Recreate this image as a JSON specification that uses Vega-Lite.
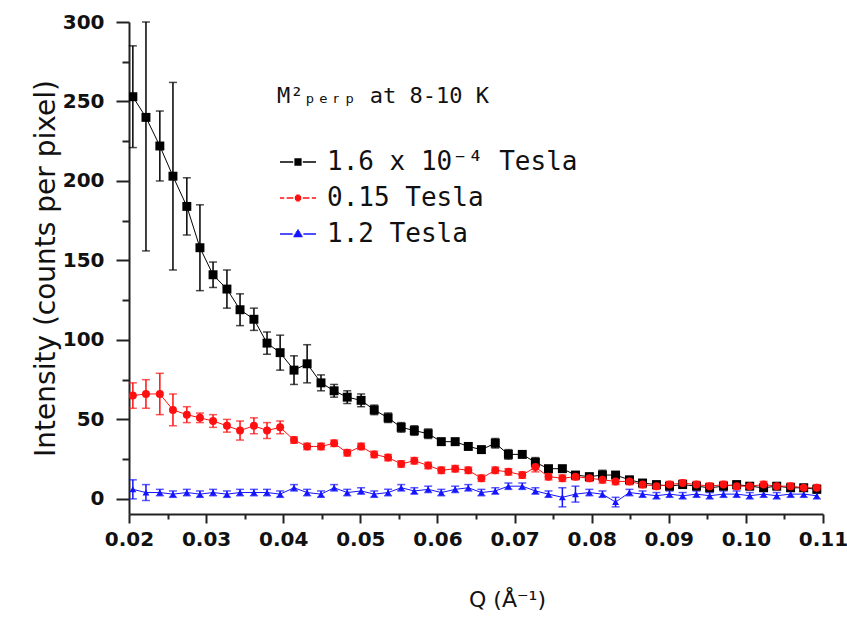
{
  "$schema": "https://vega.github.io/schema/vega-lite/v6.json",
  "width": 694,
  "height": 492,
  "autosize": {"type": "none"},
  "padding": {"left": 129, "top": 22, "right": 24, "bottom": 104},
  "background": "white",
  "config": {
    "view": {"stroke": null},
    "font": "DejaVu Sans",
    "axis": {"grid": false, "domainColor": "#222222", "tickColor": "#222222", "domainWidth": 2, "tickWidth": 2, "labelColor": "#111111", "titleColor": "#111111", "labelFlush": false, "labelOverlap": false},
    "legend": {
      "orient": "none", "legendX": 148, "legendY": 64,
      "titleFont": "DejaVu Sans Mono", "titleFontSize": 22, "titleFontWeight": "normal", "titleColor": "#111111", "titlePadding": 41, "titleLimit": 500,
      "labelFont": "DejaVu Sans Mono", "labelFontSize": 26, "labelColor": "#111111", "labelLimit": 500, "labelOffset": 16, "symbolOffset": 8,
      "symbolSize": 36, "symbolStrokeWidth": 1.6, "rowPadding": 10, "symbolOpacity": 1
    }
  },
  "data": {"values": [
    {"s": "1.6 x 10⁻⁴ Tesla", "q": 0.0205, "i": 253, "e": 32},
    {"s": "1.6 x 10⁻⁴ Tesla", "q": 0.0222, "i": 240, "e": 84},
    {"s": "1.6 x 10⁻⁴ Tesla", "q": 0.0240, "i": 222, "e": 22},
    {"s": "1.6 x 10⁻⁴ Tesla", "q": 0.0257, "i": 203, "e": 59},
    {"s": "1.6 x 10⁻⁴ Tesla", "q": 0.0275, "i": 184, "e": 18},
    {"s": "1.6 x 10⁻⁴ Tesla", "q": 0.0292, "i": 158, "e": 27},
    {"s": "1.6 x 10⁻⁴ Tesla", "q": 0.0309, "i": 141, "e": 8},
    {"s": "1.6 x 10⁻⁴ Tesla", "q": 0.0327, "i": 132, "e": 12},
    {"s": "1.6 x 10⁻⁴ Tesla", "q": 0.0344, "i": 119, "e": 10},
    {"s": "1.6 x 10⁻⁴ Tesla", "q": 0.0362, "i": 113, "e": 7},
    {"s": "1.6 x 10⁻⁴ Tesla", "q": 0.0379, "i": 98, "e": 7},
    {"s": "1.6 x 10⁻⁴ Tesla", "q": 0.0396, "i": 92, "e": 11},
    {"s": "1.6 x 10⁻⁴ Tesla", "q": 0.0414, "i": 81, "e": 9},
    {"s": "1.6 x 10⁻⁴ Tesla", "q": 0.0431, "i": 85, "e": 12},
    {"s": "1.6 x 10⁻⁴ Tesla", "q": 0.0449, "i": 73, "e": 5},
    {"s": "1.6 x 10⁻⁴ Tesla", "q": 0.0466, "i": 68, "e": 4},
    {"s": "1.6 x 10⁻⁴ Tesla", "q": 0.0483, "i": 64, "e": 4},
    {"s": "1.6 x 10⁻⁴ Tesla", "q": 0.0501, "i": 62, "e": 4},
    {"s": "1.6 x 10⁻⁴ Tesla", "q": 0.0518, "i": 56, "e": 3},
    {"s": "1.6 x 10⁻⁴ Tesla", "q": 0.0536, "i": 51, "e": 3},
    {"s": "1.6 x 10⁻⁴ Tesla", "q": 0.0553, "i": 45, "e": 3},
    {"s": "1.6 x 10⁻⁴ Tesla", "q": 0.0570, "i": 43, "e": 3},
    {"s": "1.6 x 10⁻⁴ Tesla", "q": 0.0588, "i": 41, "e": 3},
    {"s": "1.6 x 10⁻⁴ Tesla", "q": 0.0605, "i": 36, "e": 2},
    {"s": "1.6 x 10⁻⁴ Tesla", "q": 0.0623, "i": 36, "e": 2},
    {"s": "1.6 x 10⁻⁴ Tesla", "q": 0.0640, "i": 33, "e": 2},
    {"s": "1.6 x 10⁻⁴ Tesla", "q": 0.0657, "i": 31, "e": 2},
    {"s": "1.6 x 10⁻⁴ Tesla", "q": 0.0675, "i": 35, "e": 3},
    {"s": "1.6 x 10⁻⁴ Tesla", "q": 0.0692, "i": 28, "e": 3},
    {"s": "1.6 x 10⁻⁴ Tesla", "q": 0.0710, "i": 28, "e": 2},
    {"s": "1.6 x 10⁻⁴ Tesla", "q": 0.0727, "i": 23, "e": 3},
    {"s": "1.6 x 10⁻⁴ Tesla", "q": 0.0744, "i": 19, "e": 2},
    {"s": "1.6 x 10⁻⁴ Tesla", "q": 0.0762, "i": 19, "e": 2},
    {"s": "1.6 x 10⁻⁴ Tesla", "q": 0.0779, "i": 15, "e": 2},
    {"s": "1.6 x 10⁻⁴ Tesla", "q": 0.0797, "i": 14, "e": 2},
    {"s": "1.6 x 10⁻⁴ Tesla", "q": 0.0814, "i": 15, "e": 3},
    {"s": "1.6 x 10⁻⁴ Tesla", "q": 0.0831, "i": 15, "e": 2},
    {"s": "1.6 x 10⁻⁴ Tesla", "q": 0.0849, "i": 12, "e": 2},
    {"s": "1.6 x 10⁻⁴ Tesla", "q": 0.0866, "i": 10, "e": 2},
    {"s": "1.6 x 10⁻⁴ Tesla", "q": 0.0884, "i": 9, "e": 2},
    {"s": "1.6 x 10⁻⁴ Tesla", "q": 0.0901, "i": 8, "e": 2},
    {"s": "1.6 x 10⁻⁴ Tesla", "q": 0.0918, "i": 9, "e": 2},
    {"s": "1.6 x 10⁻⁴ Tesla", "q": 0.0936, "i": 8, "e": 2},
    {"s": "1.6 x 10⁻⁴ Tesla", "q": 0.0953, "i": 7, "e": 2},
    {"s": "1.6 x 10⁻⁴ Tesla", "q": 0.0971, "i": 8, "e": 2},
    {"s": "1.6 x 10⁻⁴ Tesla", "q": 0.0988, "i": 9, "e": 2},
    {"s": "1.6 x 10⁻⁴ Tesla", "q": 0.1005, "i": 8, "e": 2},
    {"s": "1.6 x 10⁻⁴ Tesla", "q": 0.1023, "i": 7, "e": 2},
    {"s": "1.6 x 10⁻⁴ Tesla", "q": 0.1040, "i": 8, "e": 2},
    {"s": "1.6 x 10⁻⁴ Tesla", "q": 0.1058, "i": 7, "e": 2},
    {"s": "1.6 x 10⁻⁴ Tesla", "q": 0.1075, "i": 7, "e": 2},
    {"s": "1.6 x 10⁻⁴ Tesla", "q": 0.1092, "i": 6, "e": 2},
    {"s": "0.15 Tesla", "q": 0.0205, "i": 65, "e": 8},
    {"s": "0.15 Tesla", "q": 0.0222, "i": 66, "e": 9},
    {"s": "0.15 Tesla", "q": 0.0240, "i": 66, "e": 13},
    {"s": "0.15 Tesla", "q": 0.0257, "i": 56, "e": 10},
    {"s": "0.15 Tesla", "q": 0.0275, "i": 53, "e": 5},
    {"s": "0.15 Tesla", "q": 0.0292, "i": 51, "e": 3},
    {"s": "0.15 Tesla", "q": 0.0309, "i": 49, "e": 4},
    {"s": "0.15 Tesla", "q": 0.0327, "i": 46, "e": 4},
    {"s": "0.15 Tesla", "q": 0.0344, "i": 43, "e": 6},
    {"s": "0.15 Tesla", "q": 0.0362, "i": 46, "e": 5},
    {"s": "0.15 Tesla", "q": 0.0379, "i": 43, "e": 5},
    {"s": "0.15 Tesla", "q": 0.0396, "i": 45, "e": 4},
    {"s": "0.15 Tesla", "q": 0.0414, "i": 37, "e": 2},
    {"s": "0.15 Tesla", "q": 0.0431, "i": 33, "e": 2},
    {"s": "0.15 Tesla", "q": 0.0449, "i": 33, "e": 2},
    {"s": "0.15 Tesla", "q": 0.0466, "i": 35, "e": 2},
    {"s": "0.15 Tesla", "q": 0.0483, "i": 29, "e": 2},
    {"s": "0.15 Tesla", "q": 0.0501, "i": 33, "e": 2},
    {"s": "0.15 Tesla", "q": 0.0518, "i": 28, "e": 2},
    {"s": "0.15 Tesla", "q": 0.0536, "i": 26, "e": 2},
    {"s": "0.15 Tesla", "q": 0.0553, "i": 22, "e": 2},
    {"s": "0.15 Tesla", "q": 0.0570, "i": 24, "e": 2},
    {"s": "0.15 Tesla", "q": 0.0588, "i": 21, "e": 2},
    {"s": "0.15 Tesla", "q": 0.0605, "i": 18, "e": 2},
    {"s": "0.15 Tesla", "q": 0.0623, "i": 19, "e": 2},
    {"s": "0.15 Tesla", "q": 0.0640, "i": 18, "e": 2},
    {"s": "0.15 Tesla", "q": 0.0657, "i": 13, "e": 2},
    {"s": "0.15 Tesla", "q": 0.0675, "i": 18, "e": 2},
    {"s": "0.15 Tesla", "q": 0.0692, "i": 17, "e": 2},
    {"s": "0.15 Tesla", "q": 0.0710, "i": 15, "e": 2},
    {"s": "0.15 Tesla", "q": 0.0727, "i": 20, "e": 3},
    {"s": "0.15 Tesla", "q": 0.0744, "i": 14, "e": 2},
    {"s": "0.15 Tesla", "q": 0.0762, "i": 13, "e": 2},
    {"s": "0.15 Tesla", "q": 0.0779, "i": 14, "e": 2},
    {"s": "0.15 Tesla", "q": 0.0797, "i": 13, "e": 2},
    {"s": "0.15 Tesla", "q": 0.0814, "i": 12, "e": 2},
    {"s": "0.15 Tesla", "q": 0.0831, "i": 11, "e": 2},
    {"s": "0.15 Tesla", "q": 0.0849, "i": 11, "e": 2},
    {"s": "0.15 Tesla", "q": 0.0866, "i": 9, "e": 2},
    {"s": "0.15 Tesla", "q": 0.0884, "i": 8, "e": 2},
    {"s": "0.15 Tesla", "q": 0.0901, "i": 9, "e": 2},
    {"s": "0.15 Tesla", "q": 0.0918, "i": 10, "e": 2},
    {"s": "0.15 Tesla", "q": 0.0936, "i": 9, "e": 2},
    {"s": "0.15 Tesla", "q": 0.0953, "i": 8, "e": 2},
    {"s": "0.15 Tesla", "q": 0.0971, "i": 9, "e": 2},
    {"s": "0.15 Tesla", "q": 0.0988, "i": 8, "e": 2},
    {"s": "0.15 Tesla", "q": 0.1005, "i": 8, "e": 2},
    {"s": "0.15 Tesla", "q": 0.1023, "i": 9, "e": 2},
    {"s": "0.15 Tesla", "q": 0.1040, "i": 8, "e": 2},
    {"s": "0.15 Tesla", "q": 0.1058, "i": 8, "e": 2},
    {"s": "0.15 Tesla", "q": 0.1075, "i": 7, "e": 2},
    {"s": "0.15 Tesla", "q": 0.1092, "i": 7, "e": 2},
    {"s": "1.2 Tesla", "q": 0.0205, "i": 6, "e": 6},
    {"s": "1.2 Tesla", "q": 0.0222, "i": 4, "e": 5},
    {"s": "1.2 Tesla", "q": 0.0240, "i": 4, "e": 2},
    {"s": "1.2 Tesla", "q": 0.0257, "i": 3, "e": 2},
    {"s": "1.2 Tesla", "q": 0.0275, "i": 4, "e": 2},
    {"s": "1.2 Tesla", "q": 0.0292, "i": 3, "e": 2},
    {"s": "1.2 Tesla", "q": 0.0309, "i": 4, "e": 2},
    {"s": "1.2 Tesla", "q": 0.0327, "i": 3, "e": 2},
    {"s": "1.2 Tesla", "q": 0.0344, "i": 4, "e": 2},
    {"s": "1.2 Tesla", "q": 0.0362, "i": 4, "e": 2},
    {"s": "1.2 Tesla", "q": 0.0379, "i": 4, "e": 2},
    {"s": "1.2 Tesla", "q": 0.0396, "i": 3, "e": 2},
    {"s": "1.2 Tesla", "q": 0.0414, "i": 7, "e": 2},
    {"s": "1.2 Tesla", "q": 0.0431, "i": 4, "e": 2},
    {"s": "1.2 Tesla", "q": 0.0449, "i": 3, "e": 2},
    {"s": "1.2 Tesla", "q": 0.0466, "i": 7, "e": 2},
    {"s": "1.2 Tesla", "q": 0.0483, "i": 4, "e": 2},
    {"s": "1.2 Tesla", "q": 0.0501, "i": 5, "e": 2},
    {"s": "1.2 Tesla", "q": 0.0518, "i": 3, "e": 2},
    {"s": "1.2 Tesla", "q": 0.0536, "i": 4, "e": 2},
    {"s": "1.2 Tesla", "q": 0.0553, "i": 7, "e": 2},
    {"s": "1.2 Tesla", "q": 0.0570, "i": 5, "e": 2},
    {"s": "1.2 Tesla", "q": 0.0588, "i": 6, "e": 2},
    {"s": "1.2 Tesla", "q": 0.0605, "i": 4, "e": 2},
    {"s": "1.2 Tesla", "q": 0.0623, "i": 6, "e": 2},
    {"s": "1.2 Tesla", "q": 0.0640, "i": 7, "e": 2},
    {"s": "1.2 Tesla", "q": 0.0657, "i": 4, "e": 2},
    {"s": "1.2 Tesla", "q": 0.0675, "i": 5, "e": 2},
    {"s": "1.2 Tesla", "q": 0.0692, "i": 8, "e": 2},
    {"s": "1.2 Tesla", "q": 0.0710, "i": 8, "e": 2},
    {"s": "1.2 Tesla", "q": 0.0727, "i": 5, "e": 2},
    {"s": "1.2 Tesla", "q": 0.0744, "i": 3, "e": 2},
    {"s": "1.2 Tesla", "q": 0.0762, "i": 1, "e": 6},
    {"s": "1.2 Tesla", "q": 0.0779, "i": 3, "e": 5},
    {"s": "1.2 Tesla", "q": 0.0797, "i": 4, "e": 2},
    {"s": "1.2 Tesla", "q": 0.0814, "i": 3, "e": 2},
    {"s": "1.2 Tesla", "q": 0.0831, "i": -2, "e": 3},
    {"s": "1.2 Tesla", "q": 0.0849, "i": 4, "e": 2},
    {"s": "1.2 Tesla", "q": 0.0866, "i": 3, "e": 2},
    {"s": "1.2 Tesla", "q": 0.0884, "i": 2, "e": 2},
    {"s": "1.2 Tesla", "q": 0.0901, "i": 3, "e": 2},
    {"s": "1.2 Tesla", "q": 0.0918, "i": 2, "e": 2},
    {"s": "1.2 Tesla", "q": 0.0936, "i": 3, "e": 2},
    {"s": "1.2 Tesla", "q": 0.0953, "i": 2, "e": 2},
    {"s": "1.2 Tesla", "q": 0.0971, "i": 3, "e": 2},
    {"s": "1.2 Tesla", "q": 0.0988, "i": 3, "e": 2},
    {"s": "1.2 Tesla", "q": 0.1005, "i": 2, "e": 2},
    {"s": "1.2 Tesla", "q": 0.1023, "i": 3, "e": 2},
    {"s": "1.2 Tesla", "q": 0.1040, "i": 2, "e": 2},
    {"s": "1.2 Tesla", "q": 0.1058, "i": 3, "e": 2},
    {"s": "1.2 Tesla", "q": 0.1075, "i": 3, "e": 2},
    {"s": "1.2 Tesla", "q": 0.1092, "i": 2, "e": 2}
  ]},
  "resolve": {"axis": {"x": "independent", "y": "independent"}, "scale": {"color": "independent", "shape": "independent"}},
  "layer": [
    {
      "mark": {"type": "line", "strokeWidth": 1, "clip": true},
      "encoding": {
        "x": {"field": "q", "type": "quantitative",
          "scale": {"domain": [0.02, 0.11], "nice": false, "zero": false},
          "axis": {"orient": "bottom", "values": [0.025, 0.035, 0.045, 0.055, 0.065, 0.075, 0.085, 0.095, 0.105], "labels": false, "domain": false, "tickSize": 5, "title": null}},
        "y": {"field": "i", "type": "quantitative",
          "scale": {"domain": [-9.5, 300], "nice": false, "zero": false, "clamp": true},
          "axis": {"orient": "left", "values": [25, 75, 125, 175, 225, 275], "labels": false, "domain": false, "tickSize": 7, "title": null}},
        "color": {"field": "s", "type": "nominal",
          "scale": {"domain": ["1.6 x 10⁻⁴ Tesla", "0.15 Tesla", "1.2 Tesla"], "range": ["#000000", "#ff1010", "#1414ff"]},
          "legend": null}
      }
    },
    {
      "mark": {"type": "errorbar", "ticks": {"size": 8}, "thickness": 1.5},
      "encoding": {
        "x": {"field": "q", "type": "quantitative",
          "scale": {"domain": [0.02, 0.11], "nice": false, "zero": false}, "axis": null},
        "y": {"field": "i", "type": "quantitative",
          "scale": {"domain": [-9.5, 300], "nice": false, "zero": false, "clamp": true}, "axis": null},
        "yError": {"field": "e"},
        "color": {"field": "s", "type": "nominal",
          "scale": {"domain": ["1.6 x 10⁻⁴ Tesla", "0.15 Tesla", "1.2 Tesla"], "range": ["#000000", "#ff1010", "#1414ff"]},
          "legend": null}
      }
    },
    {
      "mark": {"type": "point", "filled": true, "opacity": 1, "clip": true},
      "encoding": {
        "x": {"field": "q", "type": "quantitative",
          "scale": {"domain": [0.02, 0.11], "nice": false, "zero": false},
          "axis": {"orient": "bottom", "values": [0.02, 0.03, 0.04, 0.05, 0.06, 0.07, 0.08, 0.09, 0.10, 0.11], "format": ".2f", "tickSize": 9, "labelPadding": 6, "labelFontSize": 20, "labelFontWeight": "bold", "title": "Q (Å⁻¹)", "titleFontSize": 22, "titleFontWeight": "normal", "titlePadding": 40, "titleX": 378}},
        "y": {"field": "i", "type": "quantitative",
          "scale": {"domain": [-9.5, 300], "nice": false, "zero": false, "clamp": true},
          "axis": {"orient": "left", "values": [0, 50, 100, 150, 200, 250, 300], "tickSize": 13, "labelPadding": 12, "labelFontSize": 20, "labelFontWeight": "bold", "title": "Intensity (counts per pixel)", "titleFontSize": 28, "titleFontWeight": "normal", "titlePadding": 2}},
        "color": {"field": "s", "type": "nominal",
          "scale": {"domain": ["1.6 x 10⁻⁴ Tesla", "0.15 Tesla", "1.2 Tesla"], "range": ["#000000", "#ff1010", "#1414ff"]},
          "legend": null},
        "shape": {"field": "s", "type": "nominal",
          "scale": {"domain": ["1.6 x 10⁻⁴ Tesla", "0.15 Tesla", "1.2 Tesla"], "range": ["square", "circle", "triangle-up"]},
          "legend": null},
        "size": {"field": "s", "type": "nominal",
          "scale": {"domain": ["1.6 x 10⁻⁴ Tesla", "0.15 Tesla", "1.2 Tesla"], "range": [80, 48, 64]},
          "legend": null}
      }
    },
    {
      "transform": [{"filter": "datum.q > 1"}],
      "mark": {"type": "point", "filled": false, "strokeWidth": 1.6},
      "encoding": {
        "x": {"field": "q", "type": "quantitative",
          "scale": {"domain": [0.02, 0.11], "nice": false, "zero": false}, "axis": null},
        "y": {"field": "i", "type": "quantitative",
          "scale": {"domain": [-9.5, 300], "nice": false, "zero": false, "clamp": true}, "axis": null},
        "color": {"field": "s", "type": "nominal",
          "scale": {"domain": ["1.6 x 10⁻⁴ Tesla", "0.15 Tesla", "1.2 Tesla"], "range": ["#000000", "#ff1010", "#1414ff"]},
          "legend": {"title": "M²ₚₑᵣₚ at 8-10 K"}},
        "shape": {"field": "s", "type": "nominal",
          "scale": {"domain": ["1.6 x 10⁻⁴ Tesla", "0.15 Tesla", "1.2 Tesla"],
            "range": [
              "M-6,0H-1.6M1.6,0H6M-1.2,-1H1.2M-1.2,-0.5H1.2M-1.2,0H1.2M-1.2,0.5H1.2M-1.2,1H1.2",
              "M-6,0H-4.6M-3.8,0H-1.6M1.6,0H3.8M4.6,0H6M-0.6,-0.9H0.6M-1,-0.45H1M-1.1,0H1.1M-1,0.45H1M-0.6,0.9H0.6",
              "M-6,0H-1.8M1.8,0H6M-0.3,-1.2H0.3M-0.6,-0.7H0.6M-0.9,-0.2H0.9M-1.2,0.3H1.2M-1.5,0.8H1.5"
            ]},
          "legend": {"title": "M²ₚₑᵣₚ at 8-10 K"}}
      }
    }
  ]
}
